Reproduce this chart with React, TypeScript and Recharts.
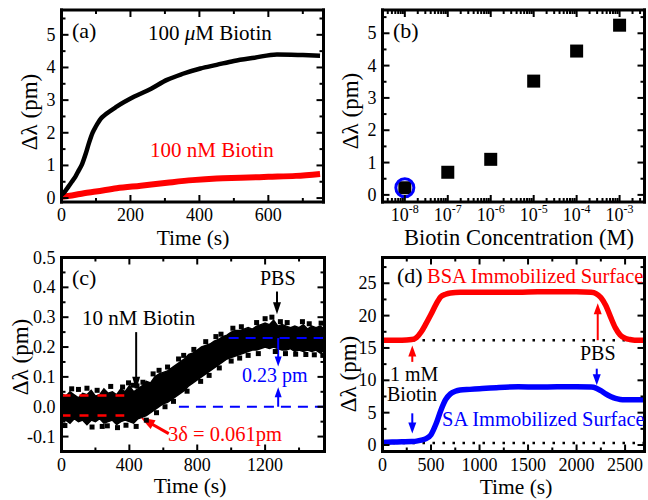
import React from "react";
import {
  ComposedChart,
  Line,
  Area,
  Scatter,
  XAxis,
  YAxis,
  ReferenceLine,
  ReferenceDot,
} from "recharts";

const FONT = '"Liberation Serif", "Times New Roman", serif';
const RED = "#ff0000";
const BLUE = "#0000ff";

// (a) binding kinetics, [time s, shift pm]
const aMicro: [number, number][] = [
  [0, 0.1], [10, 0.2], [20, 0.35], [30, 0.5], [40, 0.65], [50, 0.85], [60, 1.05],
  [70, 1.35], [80, 1.7], [90, 2.0], [100, 2.2], [113, 2.42], [130, 2.58], [160, 2.8],
  [210, 3.1], [260, 3.35], [306, 3.62], [350, 3.8], [403, 3.97], [450, 4.08],
  [500, 4.2], [560, 4.3], [625, 4.4], [700, 4.38], [750, 4.36],
];
const aNano: [number, number][] = [
  [0, 0.04], [30, 0.08], [65, 0.15], [100, 0.2], [160, 0.3], [230, 0.38], [306, 0.47],
  [380, 0.55], [450, 0.6], [520, 0.62], [600, 0.65], [680, 0.68], [750, 0.74],
];

// (b) dose response, exponent of concentration (M)
const bExp = [-8, -7, -6, -5, -4, -3];
const bShift = [0.22, 0.7, 1.1, 3.52, 4.45, 5.25];

// (c) 10 nM trace: envelope of the noisy band
const cTime = [
  0, 25, 50, 75, 100, 125, 150, 175, 200, 225, 250, 275, 300, 325, 350, 375, 400, 425,
  450, 475, 500, 525, 550, 575, 600, 625, 650, 675, 700, 725, 750, 775, 800, 825, 850,
  875, 900, 925, 950, 975, 1000, 1025, 1050, 1075, 1100, 1125, 1150, 1175, 1200, 1225,
  1250, 1275, 1300, 1325, 1350, 1375, 1400, 1425, 1450, 1475, 1500, 1525, 1550,
];
const cHi = [
  0.045, 0.035, 0.05, 0.04, 0.03, 0.045, 0.04, 0.055, 0.035, 0.04, 0.06, 0.045, 0.05,
  0.04, 0.06, 0.05, 0.07, 0.05, 0.06, 0.07, 0.085, 0.08, 0.1, 0.11, 0.115, 0.12, 0.13,
  0.14, 0.15, 0.16, 0.175, 0.18, 0.19, 0.2, 0.205, 0.21, 0.22, 0.225, 0.235, 0.24, 0.25,
  0.255, 0.255, 0.26, 0.265, 0.26, 0.27, 0.275, 0.28, 0.275, 0.29, 0.27, 0.275, 0.27,
  0.265, 0.27, 0.265, 0.275, 0.26, 0.27, 0.265, 0.27, 0.26,
];
const cLo = [
  -0.05, -0.045, -0.055, -0.04, -0.05, -0.045, -0.06, -0.045, -0.05, -0.04, -0.055,
  -0.05, -0.045, -0.06, -0.05, -0.045, -0.05, -0.055, -0.04, -0.035, -0.03, -0.02,
  -0.01, 0.0, 0.01, 0.015, 0.025, 0.035, 0.045, 0.055, 0.07, 0.08, 0.09, 0.1, 0.11,
  0.12, 0.13, 0.14, 0.15, 0.16, 0.165, 0.17, 0.175, 0.18, 0.185, 0.19, 0.19, 0.195, 0.2,
  0.195, 0.2, 0.195, 0.19, 0.19, 0.195, 0.185, 0.19, 0.185, 0.19, 0.185, 0.19, 0.18, 0.19,
];
// stray points sticking out of the band
const cSpots: [number, number][] = [
  [20, -0.063], [60, 0.06], [100, 0.058], [150, 0.062], [180, -0.068], [210, 0.055],
  [240, -0.066], [270, -0.064], [290, 0.068], [330, -0.07], [360, 0.066], [380, -0.062],
  [395, 0.08], [420, 0.072], [440, -0.066], [445, 0.07], [480, 0.082], [500, -0.045],
  [540, 0.11], [560, -0.02], [575, 0.122], [610, 0.0], [625, 0.133], [660, 0.018],
  [690, 0.16], [720, 0.172], [740, 0.052], [780, 0.192], [820, 0.085], [850, 0.218],
  [870, 0.105], [910, 0.235], [930, 0.13], [940, 0.243], [1000, 0.153], [1010, 0.263],
  [1050, 0.163], [1060, 0.268], [1100, 0.172], [1150, 0.282], [1160, 0.178],
  [1200, 0.295], [1240, 0.3], [1260, 0.185], [1290, 0.285], [1320, 0.178], [1330, 0.282],
  [1380, 0.176], [1420, 0.285], [1440, 0.175], [1460, 0.278], [1490, 0.174],
  [1530, 0.28], [1540, 0.172],
];

// (d) BSA vs SA surfaces
const dBsa: [number, number][] = [
  [0, 16.2], [100, 16.2], [200, 16.2], [300, 16.3], [350, 16.6], [400, 17.5], [450, 18.8],
  [500, 20.2], [550, 21.7], [600, 22.9], [650, 23.3], [700, 23.5], [800, 23.6],
  [1000, 23.6], [1200, 23.6], [1400, 23.6], [1600, 23.7], [1800, 23.7], [2000, 23.7],
  [2150, 23.6], [2200, 23.4], [2250, 22.8], [2300, 21.6], [2350, 19.8], [2400, 18.1],
  [2450, 17.0], [2500, 16.5], [2550, 16.3], [2600, 16.2], [2700, 16.2],
];
const dSa: [number, number][] = [
  [0, 0.4], [100, 0.45], [200, 0.5], [300, 0.55], [350, 0.6], [400, 0.75], [450, 1.0],
  [500, 1.6], [550, 3.2], [600, 5.3], [650, 7.0], [700, 7.9], [750, 8.3], [800, 8.5],
  [900, 8.6], [1000, 8.7], [1200, 8.9], [1400, 9.0], [1600, 8.95], [1800, 9.0],
  [2000, 9.0], [2150, 8.95], [2200, 8.8], [2250, 8.4], [2300, 7.9], [2350, 7.5],
  [2400, 7.2], [2450, 7.05], [2500, 7.0], [2600, 7.0], [2700, 7.0],
];

const pts = (arr: [number, number][]) => arr.map(([t, v]) => ({ t, v }));

type Side = "bottom" | "top" | "left" | "right";
const isIn = (list: number[], v: number) => list.some((m) => Math.abs(m - v) < 1e-6);

function tickFor(side: Side, majors: number[], label?: (v: number) => React.ReactNode) {
  return (p: any) => {
    const { x, y, payload } = p;
    const v = payload.value;
    const major = isIn(majors, v);
    const len = major ? 7 : 4;
    let l = { x1: x, y1: y, x2: x, y2: y };
    if (side === "bottom") l.y2 = y - len;
    if (side === "top") l.y2 = y + len;
    if (side === "left") l.x2 = x + len;
    if (side === "right") l.x2 = x - len;
    return (
      <g>
        <line {...l} stroke="#000" strokeWidth={2} />
        {major && label && side === "bottom" && (
          <text x={x} y={y + 19} textAnchor="middle" fontSize={18} fontFamily={FONT} fill="#000">
            {label(v)}
          </text>
        )}
        {major && label && side === "left" && (
          <text x={x - 6} y={y + 6} textAnchor="end" fontSize={18} fontFamily={FONT} fill="#000">
            {label(v)}
          </text>
        )}
      </g>
    );
  };
}

const frameLine = { stroke: "#000", strokeWidth: 3, strokeLinecap: "square" as const };

// axes take 1px each, so plot margins are given 1px short on every side
function frame(
  xDomain: [number, number],
  xTicks: number[],
  xMajors: number[],
  xLabel: (v: number) => React.ReactNode,
  yDomain: [number, number],
  yTicks: number[],
  yMajors: number[],
  yLabel: (v: number) => React.ReactNode
) {
  const common = { type: "number" as const, interval: 0, tickSize: 0, tickMargin: 0, tickLine: false, axisLine: frameLine, allowDataOverflow: true };
  return [
    <XAxis key="xb" xAxisId={0} dataKey="t" domain={xDomain} ticks={xTicks} height={1} tick={tickFor("bottom", xMajors, xLabel)} {...common} />,
    <XAxis key="xt" xAxisId="top" orientation="top" dataKey="t" domain={xDomain} ticks={xTicks} height={1} tick={tickFor("top", xMajors)} {...common} />,
    <YAxis key="yl" yAxisId={0} dataKey="v" domain={yDomain} ticks={yTicks} width={1} tick={tickFor("left", yMajors, yLabel)} {...common} />,
    <YAxis key="yr" yAxisId="right" orientation="right" dataKey="v" domain={yDomain} ticks={yTicks} width={1} tick={tickFor("right", yMajors)} {...common} />,
  ];
}

const plot = (left: number, top: number, right: number, bottom: number) => ({
  left: left - 1,
  top: top - 1,
  right: 648 - right - 1,
  bottom: 500 - bottom - 1,
});

const arrow = (color: string, w = 2, head = 12, half = 4) => (p: any) => {
  const { x1, y1, x2, y2 } = p;
  const dx = x2 - x1;
  const dy = y2 - y1;
  const L = Math.hypot(dx, dy) || 1;
  const ux = dx / L;
  const uy = dy / L;
  const bx = x2 - ux * head;
  const by = y2 - uy * head;
  return (
    <g>
      <line x1={x1} y1={y1} x2={bx + ux * 2} y2={by + uy * 2} stroke={color} strokeWidth={w} />
      <polygon
        points={`${x2},${y2} ${bx - uy * half},${by + ux * half} ${bx + uy * half},${by - ux * half}`}
        fill={color}
      />
    </g>
  );
};

const range = (a: number, b: number, step: number) => {
  const out: number[] = [];
  for (let v = a; v <= b + 1e-9; v += step) out.push(Math.round(v * 1000) / 1000);
  return out;
};

const num = (v: number) => String(v);
const dec1 = (v: number) => v.toFixed(1);
const pow = (v: number) => (
  <>
    <tspan>10</tspan>
    <tspan fontSize={12} dy={-8}>{String(v)}</tspan>
  </>
);

// log minor ticks for panel (b)
const bMinor: number[] = [];
for (let d = -9; d <= -3; d++) {
  for (let k = 2; k <= 9; k++) {
    const e = d + Math.log10(k);
    if (e > -8.52 && e < -2.42) bMinor.push(e);
  }
}

const chartBox = (children: React.ReactNode) => (
  <div style={{ position: "absolute", left: 0, top: 0, width: 648, height: 500 }}>{children}</div>
);

function T(props: {
  x: number;
  y: number;
  size?: number;
  color?: string;
  anchor?: "start" | "middle" | "end";
  children: React.ReactNode;
}) {
  const { x, y, size = 20, color = "#000", anchor = "start", children } = props;
  return (
    <text x={x} y={y} fontSize={size} fill={color} textAnchor={anchor} fontFamily={FONT}>
      {children}
    </text>
  );
}

function YTitle({ x, y }: { x: number; y: number }) {
  return (
    <text transform={`translate(${x},${y}) rotate(-90)`} fontSize={23} textAnchor="middle" fontFamily={FONT} fill="#000">
      Δλ (pm)
    </text>
  );
}

export default function App() {
  const aTicks = range(0, 700, 100);
  const aY = range(0, 5.5, 0.5);
  const cX = range(0, 1400, 200);
  const cY = range(-0.1, 0.5, 0.05);
  const dX = range(0, 2500, 250);
  const dY = range(0, 27.5, 2.5);
  const cData = cTime.map((t, i) => ({ t, lo: cLo[i], hi: cHi[i] }));

  return (
    <div style={{ position: "absolute", left: 0, top: 0, width: 648, height: 500, background: "#fff" }}>
      {chartBox(
        <ComposedChart width={648} height={500} margin={plot(61.5, 10, 323.5, 202)}>
          {frame([0, 760], aTicks, [0, 200, 400, 600], num, [-0.12, 5.76], aY, [0, 1, 2, 3, 4, 5], num)}
          <Line data={pts(aNano)} dataKey="v" type="monotone" stroke={RED} strokeWidth={6} dot={false} isAnimationActive={false} />
          <Line data={pts(aMicro)} dataKey="v" type="monotone" stroke="#000" strokeWidth={4.5} dot={false} isAnimationActive={false} />
        </ComposedChart>
      )}
      {chartBox(
        <ComposedChart width={648} height={500} margin={plot(382.5, 10, 644.5, 202)}>
          {frame([-8.52, -2.42], [...bExp, ...bMinor].sort((p, q) => p - q), bExp, pow, [-0.22, 5.72], aY, [0, 1, 2, 3, 4, 5], num)}
          <Scatter
            data={bExp.map((t, i) => ({ t, v: bShift[i] }))}
            dataKey="v"
            isAnimationActive={false}
            shape={(p: any) => <rect x={p.cx - 6.5} y={p.cy - 6.5} width={13} height={13} fill="#000" />}
          />
          <ReferenceDot x={bExp[0]} y={bShift[0]} r={9} fill="none" stroke={BLUE} strokeWidth={3} />
        </ComposedChart>
      )}
      {chartBox(
        <ComposedChart data={cData} width={648} height={500} margin={plot(61.5, 257.5, 324.5, 451.5)}>
          {frame([0, 1550], cX, [0, 400, 800, 1200], num, [-0.15, 0.5], cY, range(-0.1, 0.5, 0.1), dec1)}
          <Area dataKey={(d: any) => [d.lo, d.hi]} type="linear" stroke="#000" strokeWidth={1.5} fill="#000" fillOpacity={1} isAnimationActive={false} />
          <Scatter
            data={pts(cSpots)}
            dataKey="v"
            isAnimationActive={false}
            shape={(p: any) => <rect x={p.cx - 2.5} y={p.cy - 2.5} width={5} height={5} fill="#000" />}
          />
          <ReferenceLine segment={[{ x: 0, y: 0.038 }, { x: 370, y: 0.038 }]} stroke={RED} strokeWidth={2.5} strokeDasharray="9 9" />
          <ReferenceLine segment={[{ x: 0, y: -0.029 }, { x: 370, y: -0.029 }]} stroke={RED} strokeWidth={2.5} strokeDasharray="9 9" />
          <ReferenceLine segment={[{ x: 985, y: 0.23 }, { x: 1550, y: 0.23 }]} stroke={BLUE} strokeWidth={2} strokeDasharray="10 7" />
          <ReferenceLine segment={[{ x: 692, y: 0 }, { x: 1550, y: 0 }]} stroke={BLUE} strokeWidth={2} strokeDasharray="10 7" />
          <ReferenceLine segment={[{ x: 440, y: 0.25 }, { x: 440, y: 0.057 }]} shape={arrow("#000", 2, 13, 4)} />
          <ReferenceLine segment={[{ x: 1270, y: 0.386 }, { x: 1270, y: 0.31 }]} shape={arrow("#000", 2, 12, 4)} />
          <ReferenceLine segment={[{ x: 1277, y: 0.23 }, { x: 1277, y: 0.135 }]} shape={arrow(BLUE, 2, 10, 3.5)} />
          <ReferenceLine segment={[{ x: 1277, y: 0 }, { x: 1277, y: 0.065 }]} shape={arrow(BLUE, 2, 10, 3.5)} />
          <ReferenceLine segment={[{ x: 632, y: -0.09 }, { x: 468, y: -0.037 }]} shape={arrow(RED, 3, 14, 5)} />
        </ComposedChart>
      )}
      {chartBox(
        <ComposedChart width={648} height={500} margin={plot(382.5, 257.5, 644.5, 451.5)}>
          {frame([0, 2700], dX, range(0, 2500, 500), num, [-1.0, 28.98], dY, range(0, 25, 5), num)}
          <ReferenceLine y={16.2} stroke="#000" strokeWidth={2.5} strokeDasharray="2.5 7.5" />
          <ReferenceLine y={0.3} stroke="#000" strokeWidth={2.5} strokeDasharray="2.5 7.5" />
          <Line data={pts(dBsa)} dataKey="v" type="monotone" stroke={RED} strokeWidth={5.5} dot={false} isAnimationActive={false} />
          <Line data={pts(dSa)} dataKey="v" type="monotone" stroke={BLUE} strokeWidth={5.5} dot={false} isAnimationActive={false} />
          <ReferenceLine segment={[{ x: 307, y: 12.85 }, { x: 307, y: 15.4 }]} shape={arrow(RED, 2, 11, 4)} />
          <ReferenceLine segment={[{ x: 2218, y: 16.2 }, { x: 2218, y: 21.9 }]} shape={arrow(RED, 2, 11, 4)} />
          <ReferenceLine segment={[{ x: 307, y: 4.9 }, { x: 307, y: 1.8 }]} shape={arrow(BLUE, 2, 11, 4)} />
          <ReferenceLine segment={[{ x: 2208, y: 11.8 }, { x: 2208, y: 9.25 }]} shape={arrow(BLUE, 2, 11, 4)} />
        </ComposedChart>
      )}
      <svg width={648} height={500} style={{ position: "absolute", left: 0, top: 0, pointerEvents: "none" }}>
        {/* (a) */}
        <T x={72} y={38} size={22}>(a)</T>
        <T x={148} y={40} size={21}>
          100 <tspan fontStyle="italic">μ</tspan>M Biotin
        </T>
        <T x={150} y={157} size={21} color={RED}>100 nM Biotin</T>
        <T x={193} y={245} size={21.5} anchor="middle">Time (s)</T>
        <YTitle x={37} y={112} />
        {/* (b) */}
        <T x={519} y={245} size={22.5} anchor="middle">Biotin Concentration (M)</T>
        <T x={393} y={38} size={22}>(b)</T>
        <YTitle x={358} y={111} />
        {/* (c) */}
        <T x={72} y={285} size={22}>(c)</T>
        <T x={82} y={325} size={21}>10 nM Biotin</T>
        <T x={260} y={285} size={20}>PBS</T>
        <T x={242} y={382} size={20} color={BLUE}>0.23 pm</T>
        <T x={168} y={441} size={20.5} color={RED}>3δ = 0.061pm</T>
        <T x={190} y={493} size={21.5} anchor="middle">Time (s)</T>
        <YTitle x={28} y={357} />
        {/* (d) */}
        <T x={397} y={283} size={22}>(d)</T>
        <T x={427} y={283} size={20.5} color={RED}>BSA Immobilized Surface</T>
        <T x={580} y={360} size={20}>PBS</T>
        <T x={390} y={381} size={20}>1 mM</T>
        <T x={387} y={401} size={20}>Biotin</T>
        <T x={442} y={426} size={20.5} color={BLUE}>SA Immobilized Surface</T>
        <T x={516} y={494} size={21.5} anchor="middle">Time (s)</T>
        <YTitle x={356} y={374} />
      </svg>
    </div>
  );
}
